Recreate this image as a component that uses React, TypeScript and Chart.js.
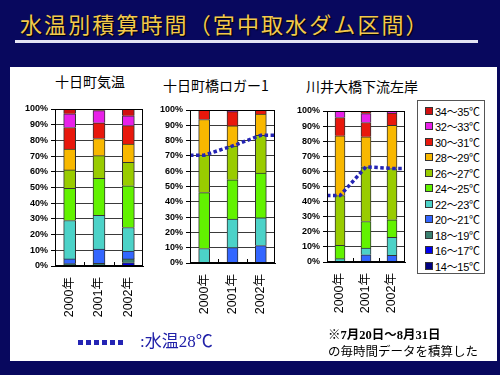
import React, { useEffect, useRef } from 'react';
import { Chart, registerables } from 'chart.js';
Chart.register(...registerables);

const years = ['2000年', '2001年', '2002年'];
const bands = ['14～15℃', '16～17℃', '18～19℃', '20～21℃', '22～23℃', '24～25℃', '26～27℃', '28～29℃', '30～31℃', '32～33℃', '34～35℃'];
const bandColors = ['#000080', '#0000ee', '#3a8070', '#3366ff', '#4cd2c8', '#62f200', '#99cc00', '#f8b800', '#e8180c', '#e820e8', '#d01010'];

// share of hours (%) per band, bottom (14～15℃) to top (34～35℃)
const airTemp2000 = [0, 0, 1.5, 3, 24.5, 20.5, 11.7, 13.2, 13.8, 8.7, 3.1];
const airTemp2001 = [0, 0, 1.7, 9, 21.5, 23.6, 14.5, 10.9, 10, 7.8, 1];
const airTemp2002 = [0, 2, 2.5, 5, 15, 26.6, 14.9, 11.7, 11.7, 6.3, 4.3];

const logger2000 = [0, 0, 0, 0, 9.5, 36.5, 24.5, 23.3, 6.2, 0, 0];
const logger2001 = [0, 0, 0, 10, 18.7, 25.7, 22.1, 13.2, 9.2, 1.1, 0];
const logger2002 = [0, 0, 0, 11.4, 18.2, 29.2, 24.7, 13.9, 2.6, 0, 0];

const kawai2000 = [0, 0, 0, 0, 2.2, 8.8, 33, 39.6, 12.1, 4.3, 0];
const kawai2001 = [0, 0, 0, 4.8, 4.4, 17.6, 36.3, 19.8, 9.5, 5.9, 1.7];
const kawai2002 = [0, 0, 0, 4.4, 11.9, 11.6, 34, 28.6, 8.1, 1.4, 0];

// 水温28℃ line (% of hours below 28℃)
const logger28 = [70.5, 76.5, 83.5];
const kawai28 = [44, 63, 62];

const yTicks = [0, 10, 20, 30, 40, 50, 60, 70, 80, 90, 100];

const framePlugin = {
  id: 'frame',
  afterDraw(chart: any) {
    const { ctx, chartArea } = chart;
    const n = years.length;
    const w = (chartArea.right - chartArea.left) / n;
    ctx.save();
    ctx.strokeStyle = '#000';
    ctx.lineWidth = 1;
    ctx.strokeRect(chartArea.left + 0.5, chartArea.top + 0.5, chartArea.right - chartArea.left - 1, chartArea.bottom - chartArea.top - 1);
    ctx.beginPath();
    for (let k = 1; k < n; k++) {
      const x = Math.round(chartArea.left + k * w) + 0.5;
      ctx.moveTo(x, chartArea.bottom);
      ctx.lineTo(x, chartArea.bottom - 4);
    }
    ctx.stroke();
    ctx.restore();
  },
};

type Cfg = {
  series: number[][];
  line?: number[];
  left: number; top: number; width: number; height: number;
  padTop: number; padRight: number;
  yWidth: number; xHeight: number;
  barThickness: number;
};

function StackChart(props: Cfg) {
  const ref = useRef<HTMLCanvasElement>(null);
  useEffect(() => {
    const datasets: any[] = bands.map((b, i) => ({
      type: 'bar',
      label: b,
      data: props.series.map((s, j) => ({ x: j, y: s[i] > 0 ? s[i] : null })),
      backgroundColor: bandColors[i],
      borderColor: '#333',
      borderWidth: 1,
      barThickness: props.barThickness,
      stack: 'bars',
      order: 1,
    }));
    if (props.line) {
      const v = props.line;
      const pts = [{ x: -0.5, y: v[0] }, ...v.map((y, i) => ({ x: i, y })), { x: v.length - 0.5, y: v[v.length - 1] }];
      datasets.push({
        type: 'line',
        label: '水温28℃',
        data: pts,
        stack: 'line',
        borderColor: '#2424b4',
        borderWidth: 3.5,
        borderDash: [3.5, 2.5],
        borderCapStyle: 'butt',
        pointRadius: 0,
        fill: false,
        tension: 0,
        order: 0,
      });
    }
    const chart = new Chart(ref.current as HTMLCanvasElement, {
      type: 'bar',
      data: { datasets },
      options: {
        animation: false,
        responsive: false,
        devicePixelRatio: 1,
        layout: { padding: { left: 0, right: props.padRight, top: props.padTop, bottom: 0 } },
        plugins: {
          legend: { display: false },
          tooltip: { enabled: false },
        },
        scales: {
          x: {
            type: 'linear',
            stacked: true,
            offset: false,
            min: -0.5,
            max: years.length - 0.5,
            afterBuildTicks: (s: any) => { s.ticks = years.map((y, i) => ({ value: i })); },
            grid: { display: false, drawTicks: false, offset: false },
            border: { display: true, color: '#000' },
            ticks: {
              autoSkip: false,
              minRotation: 90,
              maxRotation: 90,
              padding: 11,
              color: '#000',
              font: { size: 12.5, family: "'Liberation Sans', 'Noto Sans CJK JP', sans-serif" },
              callback: (v: any) => years[Math.round(v)],
            },
            afterFit: (s: any) => { s.height = props.xHeight; s.paddingLeft = 0; s.paddingRight = 0; },
          },
          y: {
            stacked: true,
            min: 0,
            max: 100,
            afterBuildTicks: (s: any) => { s.ticks = yTicks.map((v) => ({ value: v })); },
            grid: { color: '#3a3a3a', lineWidth: 1, tickLength: 4, tickColor: '#000' },
            border: { display: true, color: '#000' },
            ticks: {
              padding: 3,
              color: '#000',
              font: { size: 9, weight: 'bold', family: "'Liberation Sans', Arial, sans-serif" },
              callback: (v: any) => `${v}%`,
            },
            afterFit: (s: any) => { s.width = props.yWidth; s.paddingTop = 0; s.paddingBottom = 0; },
          },
        },
      } as any,
      plugins: [framePlugin],
    });
    return () => chart.destroy();
  }, []);
  return (
    <canvas
      ref={ref}
      width={props.width}
      height={props.height}
      style={{ position: 'absolute', left: props.left, top: props.top, width: props.width, height: props.height }}
    />
  );
}

const legendOrder = bands.map((b, i) => i).reverse();

function ChartTitle({ text, cx, cy }: { text: string; cx: number; cy: number }) {
  return (
    <div style={{ position: 'absolute', left: cx - 80, top: cy - 10, width: 160, lineHeight: '20px', textAlign: 'center', fontSize: 14, fontFamily: "'Noto Sans CJK JP', sans-serif", color: '#000', whiteSpace: 'nowrap' }}>
      {text}
    </div>
  );
}

export default function App() {
  const sans = "'Noto Sans CJK JP', sans-serif";
  return (
    <div style={{ position: 'fixed', left: 0, top: 0, width: 500, height: 375, background: '#08085e', overflow: 'hidden' }}>
      <div style={{ position: 'absolute', left: 20, top: 9, lineHeight: '28px', fontSize: 22, fontFamily: sans, color: '#f2c94c', letterSpacing: 2.1, whiteSpace: 'nowrap', textShadow: '1px 1px 1px #000' }}>
        水温別積算時間（宮中取水ダム区間）
      </div>
      <div style={{ position: 'absolute', left: 15, top: 40, width: 463, height: 3, background: '#e4e4f4' }} />
      <div style={{ position: 'absolute', left: 10, top: 67, width: 487, height: 294, background: '#fff' }} />
      <ChartTitle text="十日町気温" cx={90} cy={81} />
      <ChartTitle text="十日町橋ロガー1" cx={216} cy={85} />
      <ChartTitle text="川井大橋下流左岸" cx={362} cy={86} />
      <StackChart series={[airTemp2000, airTemp2001, airTemp2002]}
        left={12} top={70} width={138} height={260} padTop={39} padRight={7} yWidth={43} xHeight={64}
        barThickness={12} />
      <StackChart series={[logger2000, logger2001, logger2002]} line={logger28}
        left={150} top={70} width={132} height={260} padTop={40} padRight={7} yWidth={40} xHeight={67}
        barThickness={11} />
      <StackChart series={[kawai2000, kawai2001, kawai2002]} line={kawai28}
        left={285} top={70} width={127} height={260} padTop={41} padRight={7} yWidth={42} xHeight={68}
        barThickness={10} />
      <div style={{ position: 'absolute', left: 417, top: 100, width: 66, height: 170, border: '1px solid #555', background: '#fff', paddingTop: 2 }}>
        {legendOrder.map((i) => (
          <div key={i} style={{ display: 'flex', alignItems: 'center', height: 15.5 }}>
            <span style={{ display: 'inline-block', width: 6, height: 6, marginLeft: 7, background: bandColors[i], border: '1px solid #333' }} />
            <span style={{ marginLeft: 2, fontSize: 11, fontFamily: "'Liberation Sans', 'Noto Sans CJK JP', sans-serif", color: '#000', whiteSpace: 'nowrap', letterSpacing: -0.3 }}>{bands[i]}</span>
          </div>
        ))}
      </div>
      <div style={{ position: 'absolute', left: 78, top: 340, display: 'flex' }}>
        {[0, 1, 2, 3, 4, 5].map((k) => (
          <span key={k} style={{ display: 'inline-block', width: 5, height: 5, marginRight: 3, background: '#2424b4' }} />
        ))}
      </div>
      <div style={{ position: 'absolute', left: 140, top: 332, lineHeight: '20px', fontSize: 17, fontFamily: "'Liberation Serif', 'Noto Sans CJK JP', serif", color: '#2020a8', whiteSpace: 'nowrap' }}>
        :水温28℃
      </div>
      <div style={{ position: 'absolute', left: 328, top: 327, lineHeight: '17px', fontSize: 12.5, fontFamily: "'Liberation Serif', 'Noto Sans CJK JP', serif", color: '#000', whiteSpace: 'nowrap' }}>
        <div style={{ fontWeight: 'bold' }}>※7月20日～8月31日</div>
        <div>の毎時間データを積算した</div>
      </div>
    </div>
  );
}
